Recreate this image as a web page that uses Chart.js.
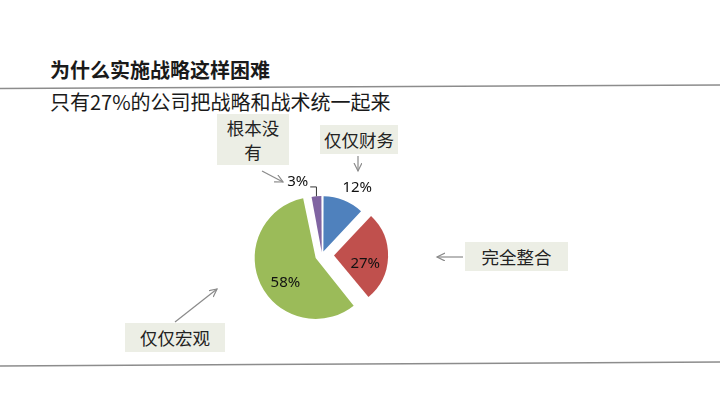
<!DOCTYPE html>
<html>
<head>
<meta charset="utf-8">
<script src="https://cdn.jsdelivr.net/npm/chart.js@4.4.1/dist/chart.umd.min.js"></script>
<style>
  body { margin: 0; width: 720px; height: 405px; background: #fff; position: relative; overflow: hidden;
         font-family: "Noto Sans CJK SC", "Noto Sans", sans-serif; color: #1a1a1a; }
  #title { position: absolute; left: 50px; top: 57px; font-size: 20px; line-height: 26px; font-weight: bold; }
  #subtitle { position: absolute; left: 50px; top: 90px; font-size: 20px; line-height: 23px; }
  #rules { position: absolute; left: 0; top: 0; z-index: 1; }
  #pie-wrap { position: absolute; left: 202px; top: 135px; width: 240px; height: 240px; z-index: 2; }
  .callout { position: absolute; z-index: 3; background: #eceee5; font-size: 17.5px; line-height: 24px;
             display: flex; align-items: center; justify-content: center; text-align: center; color: #222; }
</style>
</head>
<body>
<div id="title">为什么实施战略这样困难</div>
<div id="subtitle">只有27%的公司把战略和战术统一起来</div>

<svg id="rules" width="720" height="405">
  <defs>
    <marker id="head" markerWidth="10" markerHeight="10" refX="8" refY="4" orient="auto" markerUnits="userSpaceOnUse">
      <path d="M0,0 L8,4 L0,8" fill="none" stroke="#8a8a8a" stroke-width="1.2"/>
    </marker>
  </defs>
  <line x1="0" y1="88.5" x2="720" y2="85" stroke="#8c8c8c" stroke-width="1.5"/>
  <line x1="0" y1="366" x2="720" y2="362" stroke="#8c8c8c" stroke-width="1.5"/>
  <g id="arrows" stroke="#8a8a8a" stroke-width="1.2"></g>
</svg>

<div id="pie-wrap"><canvas id="pie"></canvas></div>

<script>
  const categories = ['仅仅财务', '完全整合', '仅仅宏观', '根本没有'];
  const shares = [12, 27, 58, 3];
  const percentLabels = ['12%', '27%', '58%', '3%'];

  // callout boxes and their arrows (box: left, top, width, height; arrow: from -> to)
  const callouts = [
    { text: '仅仅财务', box: [320, 125, 78, 29], arrow: [358, 156, 358, 171] },
    { text: '完全整合', box: [465, 242, 103, 29], arrow: [463, 257, 437, 257] },
    { text: '仅仅宏观', box: [125, 323, 100, 29], arrow: [175, 322, 217, 289] },
    { text: '根本没<br>有', box: [217, 114, 72, 51], arrow: [262, 171, 283, 182] },
  ];

  callouts.forEach((c) => {
    const d = document.createElement('div');
    d.className = 'callout';
    d.style.left = c.box[0] + 'px';
    d.style.top = c.box[1] + 'px';
    d.style.width = c.box[2] + 'px';
    d.style.height = c.box[3] + 'px';
    d.innerHTML = c.text;
    document.body.appendChild(d);

    const l = document.createElementNS('http://www.w3.org/2000/svg', 'line');
    l.setAttribute('x1', c.arrow[0]);
    l.setAttribute('y1', c.arrow[1]);
    l.setAttribute('x2', c.arrow[2]);
    l.setAttribute('y2', c.arrow[3]);
    l.setAttribute('marker-end', 'url(#head)');
    document.getElementById('arrows').appendChild(l);
  });

  // percent text on / beside each slice
  const sliceLabels = {
    id: 'sliceLabels',
    afterDatasetsDraw(chart, args, opts) {
      const { ctx } = chart;
      const meta = chart.getDatasetMeta(0);
      meta.data.forEach((arc, i) => {
        const { x, y, startAngle, endAngle, outerRadius, circumference } =
          arc.getProps(['x', 'y', 'startAngle', 'endAngle', 'outerRadius', 'circumference'], true);
        const off = arc.options.offset || 0;
        const fix = 1 - Math.sin(Math.min(Math.PI, circumference));
        const shift = off / 4 * (1 + fix);
        const mid = (startAngle + endAngle) / 2;
        const spot = opts.spots[i];
        const a = mid + spot.a * Math.PI / 180;
        const lx = x + Math.cos(a) * spot.r;
        const ly = y + Math.sin(a) * spot.r;

        ctx.save();
        ctx.font = opts.font;
        ctx.fillStyle = opts.color;
        ctx.textAlign = 'center';
        ctx.textBaseline = 'middle';
        ctx.fillText(percentLabels[i], lx, ly);
        if (spot.leader) {
          const w = ctx.measureText(percentLabels[i]).width;
          const ex = x + Math.cos(mid) * (shift + outerRadius);
          const ey = y + Math.sin(mid) * (shift + outerRadius);
          ctx.strokeStyle = '#333';
          ctx.lineWidth = 1;
          ctx.beginPath();
          ctx.moveTo(lx + w / 2 + 2, ly + 5);
          ctx.lineTo(ex, ly + 5);
          ctx.lineTo(ex, ey);
          ctx.stroke();
        }
        ctx.restore();
      });
    }
  };

  new Chart(document.getElementById('pie'), {
    type: 'pie',
    data: {
      labels: categories,
      datasets: [{
        data: shares,
        backgroundColor: ['#4f81bd', '#c0504d', '#9bbb59', '#8064a2'],
        borderWidth: 0,
        offset: [15, 48, 28, 11],
        radius: 54,
      }],
    },
    options: {
      responsive: true,
      maintainAspectRatio: false,
      animation: false,
      layout: { padding: 0 },
      plugins: {
        legend: { display: false },
        tooltip: { enabled: false },
        sliceLabels: {
          font: '15px "Noto Sans", sans-serif',
          color: '#111',
          spots: [
            { r: 76, a: 6 },
            { r: 44, a: 9 },
            { r: 46, a: -12 },
            { r: 77, a: -13, leader: true },
          ],
        },
      },
    },
    plugins: [sliceLabels],
  });
</script>
</body>
</html>
